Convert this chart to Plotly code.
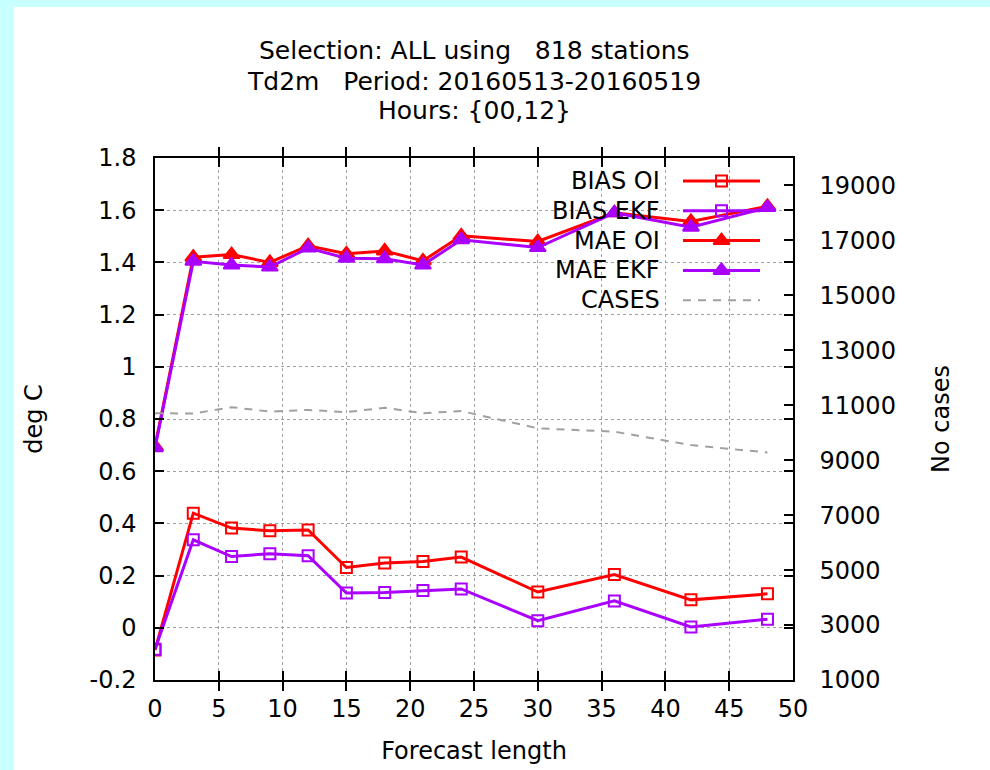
import plotly.graph_objects as go

# ---------------- data ----------------
lead = [0, 3, 6, 9, 12, 15, 18, 21, 24, 30, 36, 42, 48]
bias_oi = [-0.085, 0.439, 0.382, 0.372, 0.375, 0.231, 0.248, 0.254, 0.271, 0.137, 0.204, 0.107, 0.130]
bias_ekf = [-0.082, 0.337, 0.273, 0.284, 0.276, 0.133, 0.135, 0.143, 0.149, 0.027, 0.103, 0.003, 0.033]
mae_oi = [0.695, 1.420, 1.430, 1.400, 1.464, 1.433, 1.444, 1.406, 1.502, 1.480, 1.590, 1.557, 1.615]
mae_ekf = [0.690, 1.404, 1.390, 1.382, 1.455, 1.416, 1.414, 1.390, 1.487, 1.457, 1.590, 1.535, 1.610]
cases = [10710, 10700, 10930, 10770, 10830, 10750, 10910, 10710, 10790, 10160, 10040, 9550, 9280]

x_ticks = [0, 5, 10, 15, 20, 25, 30, 35, 40, 45, 50]
y_ticks = [-0.2, 0, 0.2, 0.4, 0.6, 0.8, 1.0, 1.2, 1.4, 1.6, 1.8]
y_tick_labels = ["-0.2", "0", "0.2", "0.4", "0.6", "0.8", "1", "1.2", "1.4", "1.6", "1.8"]
y2_ticks = [1000, 3000, 5000, 7000, 9000, 11000, 13000, 15000, 17000, 19000]
y2_tick_labels = [str(v) for v in y2_ticks]

title_lines = [
    "Selection: ALL using\u00a0\u00a0\u00a0818 stations",
    "Td2m\u00a0\u00a0\u00a0Period: 20160513-20160519",
    "Hours: {00,12}",
]
legend_names = ["BIAS OI", "BIAS EKF", "MAE OI", "MAE EKF", "CASES"]

# ---------------- styles ----------------
RED = "#ff0000"
PURPLE = "#aa00ff"
GRAY = "#a0a0a0"
FONT = "DejaVu Sans"
FS = 24
W, H = 990, 770
L, R, T, B = 155, 793, 158, 680  # plot area in pixels
PW, PH = R - L, B - T

legend_styles = [
    dict(color=RED, symbol="square-open", size=11, dash="solid", width=3),
    dict(color=PURPLE, symbol="square-open", size=11, dash="solid", width=3),
    dict(color=RED, symbol="triangle-up", size=14, dash="solid", width=3),
    dict(color=PURPLE, symbol="triangle-up", size=14, dash="solid", width=3),
    dict(color=GRAY, symbol=None, size=0, dash="8px,7px", width=2),
]

def px_x(p):
    return (p - L) / PW

def px_y(p):
    return (B - p) / PH

fig = go.Figure()

series = [bias_oi, bias_ekf, mae_oi, mae_ekf]
for name, vals, st in zip(legend_names[:4], series, legend_styles[:4]):
    fig.add_trace(go.Scatter(
        x=lead, y=vals, name=name, mode="lines+markers",
        line=dict(color=st["color"], width=st["width"]),
        marker=dict(symbol=st["symbol"], size=st["size"], color=st["color"],
                    line=dict(color=st["color"], width=2)),
        showlegend=False,
    ))

fig.add_trace(go.Scatter(
    x=lead, y=cases, name="CASES", mode="lines", yaxis="y2",
    line=dict(color=GRAY, width=2, dash=legend_styles[4]["dash"]),
    showlegend=False,
))

# ---------- gnuplot-like key (text right aligned, sample on the right) ----------
key_text_right = 662
key_x0, key_x1 = 683, 760
key_row0, key_dy = 181, 29.8
annotations = []
shapes = []
for i, (name, st) in enumerate(zip(legend_names, legend_styles)):
    yy = px_y(key_row0 + i * key_dy)
    annotations.append(dict(
        x=px_x(key_text_right), y=yy, xref="paper", yref="paper",
        text=name, showarrow=False, xanchor="right", yanchor="middle",
        font=dict(family=FONT, size=FS, color="#000"), bgcolor="rgba(0,0,0,0)",
    ))
    fig.add_trace(go.Scatter(
        x=[px_x(key_x0), px_x(key_x1)], y=[yy, yy], mode="lines",
        xaxis="x2", yaxis="y3", showlegend=False, hoverinfo="skip",
        line=dict(color=st["color"], width=st["width"], dash=st["dash"]),
    ))
    if st["symbol"]:
        fig.add_trace(go.Scatter(
            x=[px_x((key_x0 + key_x1) / 2)], y=[yy], mode="markers",
            xaxis="x2", yaxis="y3", showlegend=False, hoverinfo="skip",
            marker=dict(symbol=st["symbol"], size=st["size"], color=st["color"],
                        line=dict(color=st["color"], width=2)),
        ))

# title lines
title_y = [50, 81, 111]
for txt, py in zip(title_lines, title_y):
    annotations.append(dict(
        x=0.5, y=px_y(py), xref="paper", yref="paper", text=txt,
        showarrow=False, xanchor="center", yanchor="middle",
        font=dict(family=FONT, size=FS + 1, color="#000"),
    ))

# white canvas over cyan page background
shapes.append(dict(
    type="rect", xref="paper", yref="paper", layer="below",
    x0=px_x(14), x1=px_x(W + 5), y0=px_y(H + 5), y1=px_y(7),
    fillcolor="white", line=dict(width=0),
))

axis_common = dict(
    showline=True, linecolor="#000", linewidth=1.5,
    ticks="inside", ticklen=9, tickcolor="#000", tickwidth=1.5,
    tickfont=dict(family=FONT, size=FS, color="#000"),
    zeroline=False,
)

fig.update_layout(
    width=W, height=H,
    margin=dict(l=L, r=W - R, t=T, b=H - B, autoexpand=False),
    paper_bgcolor="#c8ffff",
    plot_bgcolor="white",
    font=dict(family=FONT, size=FS, color="#000"),
    showlegend=False,
    xaxis=dict(
        range=[0, 50], tickvals=x_ticks, ticktext=[str(v) for v in x_ticks],
        mirror="allticks", showgrid=True, gridcolor=GRAY, griddash="dot", gridwidth=1,
        title=dict(text="Forecast length", standoff=21,
                   font=dict(family=FONT, size=FS, color="#000")),
        ticklabelstandoff=6, automargin=False,
        **axis_common,
    ),
    yaxis=dict(
        range=[-0.2, 1.8], tickvals=y_ticks, ticktext=y_tick_labels,
        mirror="allticks", showgrid=True, gridcolor=GRAY, griddash="dot", gridwidth=1,
        title=dict(text="deg C", standoff=40,
                   font=dict(family=FONT, size=FS, color="#000")),
        ticklabelstandoff=12, automargin=False,
        **axis_common,
    ),
    yaxis2=dict(
        range=[1000, 20000], tickvals=y2_ticks, ticktext=y2_tick_labels,
        overlaying="y", side="right", showgrid=False,
        title=dict(text="No cases", standoff=37,
                   font=dict(family=FONT, size=FS, color="#000")),
        ticklabelstandoff=20, automargin=False,
        **axis_common,
    ),
    xaxis2=dict(overlaying="x", range=[0, 1], visible=False, fixedrange=True),
    yaxis3=dict(overlaying="y", range=[0, 1], visible=False, fixedrange=True),
    annotations=annotations,
    shapes=shapes,
)

fig.write_html("out.html", config={"displayModeBar": False},
               post_script="document.body.style.margin='0';document.body.style.overflow='hidden';")
